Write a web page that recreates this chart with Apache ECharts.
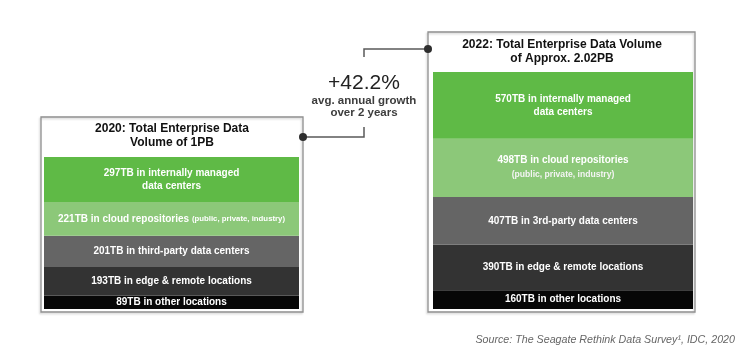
<!DOCTYPE html>
<html>
<head>
<meta charset="utf-8">
<script src="https://cdn.jsdelivr.net/npm/echarts@6/dist/echarts.min.js"></script>
<style>html,body{margin:0;padding:0;background:#fff;}#c{width:750px;height:358px;}</style>
</head>
<body>
<div id="c"></div>
<script>
// Segments, top to bottom
const segmentNames = ['Internally managed data centers', 'Cloud repositories', 'Third-party data centers', 'Edge & remote locations', 'Other locations'];
const values2020 = [297, 221, 201, 193, 89];
const values2022 = [570, 498, 407, 390, 160];
const labels2020 = [
  '297TB in internally managed\ndata centers',
  '221TB in cloud repositories {s|(public, private, industry)}',
  '201TB in third-party data centers',
  '193TB in edge & remote locations',
  '89TB in other locations'
];
const labels2022 = [
  '570TB in internally managed\ndata centers',
  '498TB in cloud repositories\n{m|(public, private, industry)}',
  '407TB in 3rd-party data centers',
  '390TB in edge & remote locations',
  '160TB in other locations'
];
const segmentColors = ['#5fba46', '#8cc879', '#656565', '#333333', '#070707'];
const title2020 = '2020: Total Enterprise Data\nVolume of 1PB';
const title2022 = '2022: Total Enterprise Data Volume\nof Approx. 2.02PB';
const growthValue = '+42.2%';
const growthText = 'avg. annual growth\nover 2 years';
const sourceText = 'Source: The Seagate Rethink Data Survey¹, IDC, 2020';

const FONT = '"Liberation Sans", Arial, Helvetica, sans-serif';
const sum = a => a.reduce((s, v) => s + v, 0);

function makeSeries(values, labels, idx, stack) {
  const out = [];
  for (let i = values.length - 1; i >= 0; i--) {
    out.push({
      type: 'bar',
      name: segmentNames[i],
      stack: stack,
      xAxisIndex: idx,
      yAxisIndex: idx,
      barWidth: '100%',
      data: [values[i]],
      itemStyle: { color: segmentColors[i] },
      label: {
        show: true,
        position: 'inside',
        formatter: labels[i],
        color: '#fff',
        fontFamily: FONT,
        fontWeight: 'bold',
        fontSize: 10,
        lineHeight: 13,
        rich: {
          s: { fontSize: 7.8, fontWeight: 'bold', color: '#fff', fontFamily: FONT, lineHeight: 13 },
          m: { fontSize: 8.6, fontWeight: 'bold', color: '#f4f4f4', fontFamily: FONT, lineHeight: 15 }
        }
      },
      emphasis: { disabled: true },
      silent: true,
      animation: false
    });
  }
  return out;
}

const chart = echarts.init(document.getElementById('c'), null, { renderer: 'canvas' });
const lineStyle = { stroke: '#5a5a5a', lineWidth: 1.5, fill: null };
const boxStyle = { stroke: '#8f8f8f', lineWidth: 1.3, fill: null, shadowColor: 'rgba(0,0,0,0.18)', shadowBlur: 2, shadowOffsetX: -1, shadowOffsetY: 1.5 };
chart.setOption({
  animation: false,
  grid: [
    { left: 44, top: 157, width: 255, height: 152 },
    { left: 433, top: 72, width: 260, height: 237 }
  ],
  xAxis: [
    { type: 'category', data: ['2020'], gridIndex: 0, show: false },
    { type: 'category', data: ['2022'], gridIndex: 1, show: false }
  ],
  yAxis: [
    { type: 'value', gridIndex: 0, min: 0, max: sum(values2020), show: false },
    { type: 'value', gridIndex: 1, min: 0, max: sum(values2022), show: false }
  ],
  series: makeSeries(values2020, labels2020, 0, 'a').concat(makeSeries(values2022, labels2022, 1, 'b')),
  graphic: [
    { type: 'rect', shape: { x: 41, y: 117, width: 262, height: 195 }, style: boxStyle, z: 10 },
    { type: 'rect', shape: { x: 428, y: 32, width: 267, height: 280 }, style: boxStyle, z: 10 },
    { type: 'text', x: 172, y: 136, style: { text: title2020, textAlign: 'center', textVerticalAlign: 'middle', font: 'bold 12px ' + FONT, fill: '#111', lineHeight: 14 }, z: 10 },
    { type: 'text', x: 562, y: 52, style: { text: title2022, textAlign: 'center', textVerticalAlign: 'middle', font: 'bold 12px ' + FONT, fill: '#111', lineHeight: 14 }, z: 10 },
    { type: 'polyline', shape: { points: [[303, 137], [364, 137], [364, 127]] }, style: lineStyle, z: 10 },
    { type: 'polyline', shape: { points: [[364, 57], [364, 49], [428, 49]] }, style: lineStyle, z: 10 },
    { type: 'circle', shape: { cx: 303, cy: 137, r: 4 }, style: { fill: '#2e2e2e' }, z: 11 },
    { type: 'circle', shape: { cx: 428, cy: 49, r: 4 }, style: { fill: '#2e2e2e' }, z: 11 },
    { type: 'text', x: 364, y: 83, style: { text: growthValue, textAlign: 'center', textVerticalAlign: 'middle', font: '21px ' + FONT, fill: '#222' }, z: 10 },
    { type: 'text', x: 364, y: 107, style: { text: growthText, textAlign: 'center', textVerticalAlign: 'middle', font: 'bold 11.5px ' + FONT, fill: '#3d3d3d', lineHeight: 12 }, z: 10 },
    { type: 'text', x: 735, y: 340, style: { text: sourceText, textAlign: 'right', textVerticalAlign: 'middle', font: 'italic 10.7px ' + FONT, fill: '#666' }, z: 10 }
  ]
});
</script>
</body>
</html>
